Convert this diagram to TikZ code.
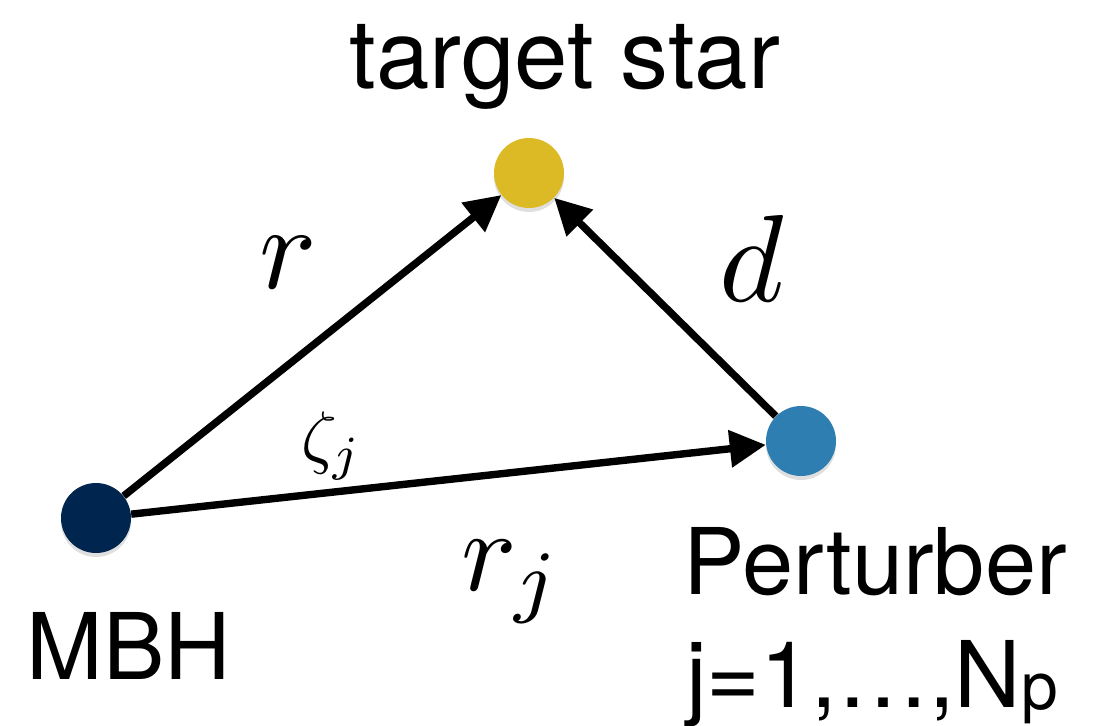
\documentclass[tikz,border=0pt]{standalone}
\usepackage{amsmath}
\usepackage{fontspec}
\setmainfont{TeX Gyre Heros}
\usetikzlibrary{arrows.meta, shadows}
\definecolor{mbhblue}{HTML}{00264F}
\definecolor{staryellow}{HTML}{DBBA26}
\definecolor{pertblue}{HTML}{2F7EB2}

\begin{document}
\begin{tikzpicture}[x=0.5pt, y=-0.5pt, >={Triangle[length=18pt, width=18pt]},
    body/.style={circle, inner sep=0pt, minimum size=35pt,
      drop shadow={opacity=0.25, shadow xshift=0pt, shadow yshift=-2pt}},
    vec/.style={->, line width=3.7pt},
    bodyname/.style={font=\fontsize{46}{55}\selectfont, inner sep=0pt, anchor=base},
    sym/.style={inner sep=0pt, anchor=base}]
  \useasboundingbox (0,0) rectangle (1110,725);
  % bodies
  \node[body, fill=mbhblue] (mbh) at (96,518) {};
  \node[body, fill=staryellow] (star) at (529,173) {};
  \node[body, fill=pertblue] (pert) at (801,441) {};
  % names
  \node[bodyname, font=\fontsize{48}{58}\selectfont] (starname) at (565,88) {target star};
  \node[bodyname] (mbhname) at (129,679) {MBH};
  \node[bodyname, anchor=base west] (pertname) at (683,594) {Perturber};
  \node[bodyname, anchor=base west] (pertidx) at (686,707)
    {j=1,\dots,N\raisebox{-1pt}{\fontsize{33}{33}\selectfont p}};
  % separations
  \draw[vec] (mbh) -- (star);
  \draw[vec] (pert) -- (star);
  \draw[vec] (mbh) -- (pert);
  % labels
  \node[sym, scale=6] (rlab) at (288,288) {$r$};
  \node[sym, scale=6.2] (dlab) at (752,301) {$d$};
  \node[sym, scale=3.5] (zetalab) at (332,460) {$\zeta_j$};
  \node[sym, scale=5.8] (rjlab) at (512,590) {$r_j$};
\end{tikzpicture}
\end{document}
